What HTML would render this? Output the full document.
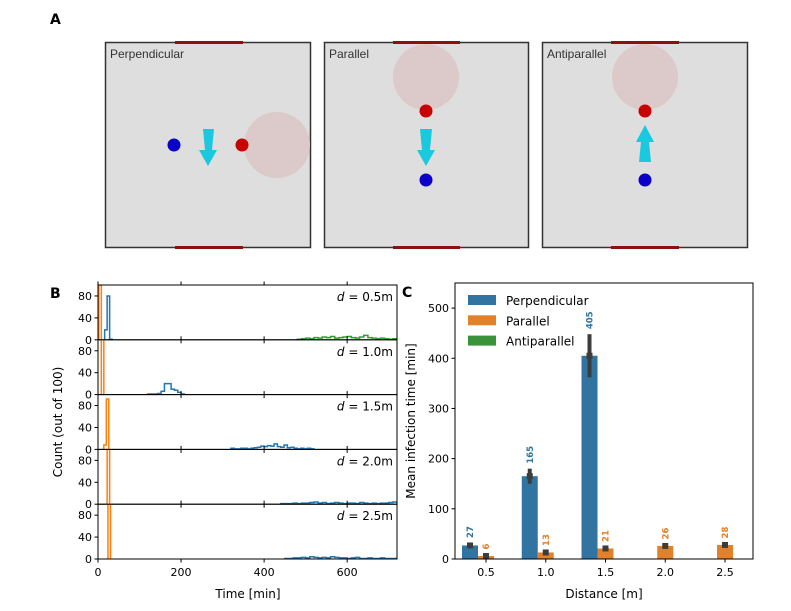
<!DOCTYPE html>
<html><head><meta charset="utf-8"><style>
body{margin:0;background:#fff;}
svg{display:block;font-family:"DejaVu Sans","Liberation Sans",sans-serif;}
</style></head><body>
<svg id="fig" width="791" height="611" viewBox="0 0 791 611">
<g>
<text x="50" y="24" font-size="14" font-weight="bold">A</text>
<g>
<rect x="105.5" y="42.5" width="205" height="205" fill="#dedede" stroke="#333" stroke-width="1.5"/>
<line x1="175" y1="42.5" x2="243" y2="42.5" stroke="#8b1010" stroke-width="3"/>
<line x1="175" y1="247.5" x2="243" y2="247.5" stroke="#8b1010" stroke-width="3"/>
<text x="110" y="58" font-size="12" fill="#333" font-family="Liberation Sans,sans-serif">Perpendicular</text>
<circle cx="277" cy="145" r="33" fill="#dccaca"/>
<circle cx="174" cy="145" r="6.5" fill="#0a00c8"/>
<circle cx="242" cy="145" r="6.5" fill="#c80000"/>
<polygon points="203,129 214,129 212,150 217,150 208,166 199,150 205,150" fill="#1ac8e0"/>
</g>
<g>
<rect x="324.5" y="42.5" width="204" height="205" fill="#dedede" stroke="#333" stroke-width="1.5"/>
<line x1="393" y1="42.5" x2="460" y2="42.5" stroke="#8b1010" stroke-width="3"/>
<line x1="393" y1="247.5" x2="460" y2="247.5" stroke="#8b1010" stroke-width="3"/>
<text x="329" y="58" font-size="12" fill="#333" font-family="Liberation Sans,sans-serif">Parallel</text>
<circle cx="426" cy="77" r="33" fill="#dccaca"/>
<circle cx="426" cy="111" r="6.5" fill="#c80000"/>
<circle cx="426" cy="180" r="6.5" fill="#0a00c8"/>
<polygon points="420,129 432,129 430,150 435,150 426,166 417,150 422,150" fill="#1ac8e0"/>
</g>
<g>
<rect x="542.5" y="42.5" width="205" height="205" fill="#dedede" stroke="#333" stroke-width="1.5"/>
<line x1="611" y1="42.5" x2="679" y2="42.5" stroke="#8b1010" stroke-width="3"/>
<line x1="611" y1="247.5" x2="679" y2="247.5" stroke="#8b1010" stroke-width="3"/>
<text x="547" y="58" font-size="12" fill="#333" font-family="Liberation Sans,sans-serif">Antiparallel</text>
<circle cx="645" cy="77" r="33" fill="#dccaca"/>
<circle cx="645" cy="111" r="6.5" fill="#c80000"/>
<circle cx="645" cy="180" r="6.5" fill="#0a00c8"/>
<polygon points="639,162 651,162 649,142 654,142 645,125 636,142 641,142" fill="#1ac8e0"/>
</g>
</g>
<g id="pb"></g>
<g id="pc"></g>
</svg>
<script>
// ---- Panel B data ----
const distLabels=["0.5","1.0","1.5","2.0","2.5"];
const timeTicks=[0,200,400,600];
const countTicks=[0,40,80];
const orangeStart=[2,8,14,22,24];
const orangeBin=6;
const orangeCounts=[[100],[100],[8,92],[100],[100]];
const blueStart=[16,120,320,440,450];
const blueBin=[6,8,8,10,10];
const blueCounts=[
[18,80,1],
[1,1,1,2,6,20,20,10,8,4,1],
[2,1,1,2,2,1,2,3,4,6,5,7,6,10,5,4,8,3,4,2,1,2,1,2,1],
[1,1,1,2,1,2,2,3,4,2,3,1,2,3,2,1,2,2,1,3,2,1,2,1,2,2,3,4],
[1,1,2,2,3,2,4,3,2,3,2,4,3,2,2,1,2,3,1,1,2,1,1,2,1,1,1]];
const greenStart=480;
const greenBin=10;
const greenCounts=[1,2,3,2,4,3,5,4,6,3,4,5,6,4,3,5,8,4,3,2,3,2,1,2];

const NS="http://www.w3.org/2000/svg";
function mk(tag,attrs,parent){const e=document.createElementNS(NS,tag);for(const k in attrs)e.setAttribute(k,attrs[k]);parent.appendChild(e);return e;}
const pb=document.getElementById('pb');
const bx0=98,bx1=397,btop=285,bh=54.8;
const xB=t=>bx0+t*(bx1-bx0)/720;
function yB(i,v){return btop+(i+1)*bh-v*bh/100;}
function stepPath(i,start,bw,counts){
  let d=`M${xB(start)},${yB(i,0)}`;
  counts.forEach((c,k)=>{const x0=xB(start+k*bw),x1=xB(start+(k+1)*bw);d+=` L${x0},${yB(i,c)} L${x1},${yB(i,c)}`;});
  d+=` L${xB(start+counts.length*bw)},${yB(i,0)}`;return d;}
let t=mk('text',{x:50,y:298,'font-size':14,'font-weight':'bold'},pb);t.textContent='B';


const clip=mk('clipPath',{id:'cb'},pb);mk('rect',{x:bx0,y:btop,width:bx1-bx0,height:5*bh},clip);
for(let i=0;i<5;i++){
  const g=mk('g',{},pb);
  
  
  const gc=mk('g',{'clip-path':'url(#cb)'},g);
  if(i===0){const p=mk('path',{d:stepPath(i,greenStart,greenBin,greenCounts),fill:'none',stroke:'#2ca02c','stroke-width':1.5},gc);
    
    }
  let p=mk('path',{d:stepPath(i,blueStart[i],blueBin[i],blueCounts[i]),fill:'none',stroke:'#1f77b4','stroke-width':1.5},gc);
  
  
  p=mk('path',{d:stepPath(i,orangeStart[i],orangeBin,orangeCounts[i]),fill:'none',stroke:'#ff7f0e','stroke-width':1.5},gc);
  
  
  mk('rect',{x:bx0,y:btop+i*bh,width:bx1-bx0,height:bh,fill:'none',stroke:'#000','stroke-width':1},g);
  countTicks.forEach(v=>{mk('line',{x1:bx0-3.5,x2:bx0,y1:yB(i,v),y2:yB(i,v),stroke:'#000'},g);
    const tt=mk('text',{x:bx0-6,y:yB(i,v)+4,'font-size':11,'text-anchor':'end'},g);tt.textContent=v;});
  timeTicks.forEach(v=>{mk('line',{x1:xB(v),x2:xB(v),y1:btop+(i+1)*bh,y2:btop+(i+1)*bh+3.5,stroke:'#000'},g);
    mk('line',{x1:xB(v),x2:xB(v),y1:btop+i*bh,y2:btop+i*bh-3.5,stroke:'#000'},g);});
  const lb=mk('text',{x:393,y:btop+i*bh+16,'font-size':12,'text-anchor':'end'},g);
  lb.innerHTML='<tspan font-style="italic">d</tspan> = '+distLabels[i]+'m';
  
  
}
timeTicks.forEach(v=>{const tt=mk('text',{x:xB(v),y:btop+5*bh+17,'font-size':11,'text-anchor':'middle'},pb);tt.textContent=v;});
t=mk('text',{x:248,y:598,'font-size':12,'text-anchor':'middle'},pb);t.textContent='Time [min]';


t=mk('text',{x:0,y:0,'font-size':12,'text-anchor':'middle',transform:'translate(62,422) rotate(-90)'},pb);t.textContent='Count (out of 100)';



// ---- Panel C data ----
const distances=["0.5","1.0","1.5","2.0","2.5"];
const perpMeans=[27,165,405,0,0];
const perpLo=[22,150,362,0,0];
const perpHi=[32,180,448,0,0];
const paraMeans=[6,13,21,26,28];
const paraLo=[3,10,18,23,25];
const paraHi=[9,16,24,29,31];
const yTicksC=[0,100,200,300,400,500];
const pc=document.getElementById('pc');
const cx0=455,cx1=753,ctop=283,cbot=559;
const yC=v=>cbot-v*(cbot-ctop)/550;
const xC=i=>486+i*59.75;
const bw=16;
t=mk('text',{x:402,y:297,'font-size':14,'font-weight':'bold'},pc);t.textContent='C';


function bars(means,lo,hi,off,color,name,txtColor){
  means.forEach((m,i)=>{if(m<=0)return;
    const r=mk('rect',{x:xC(i)+off-bw/2,y:yC(m),width:bw,height:yC(0)-yC(m),fill:color},pc);
    
    
    const cx=xC(i)+off;
    mk('line',{x1:cx,x2:cx,y1:yC(lo[i]),y2:yC(hi[i]),stroke:'#3c3c3c','stroke-width':4},pc);
    mk('rect',{x:cx-3,y:yC(m)-3,width:6,height:6,fill:'#3c3c3c'},pc);
    const ty=yC(hi[i])-5;
    const tx=mk('text',{x:0,y:0,'font-size':8.5,'font-weight':'bold',fill:txtColor,transform:`translate(${cx+3},${ty}) rotate(-90)`},pc);
    tx.textContent=m;
    
    
  });}
bars(perpMeans,perpLo,perpHi,-16,'#3274a1','perpendicular','#3274a1');
bars(paraMeans,paraLo,paraHi,0,'#e1812c','parallel','#e1812c');
mk('rect',{x:cx0,y:ctop,width:cx1-cx0,height:cbot-ctop,fill:'none',stroke:'#000'},pc);
yTicksC.forEach(v=>{mk('line',{x1:cx0-3.5,x2:cx0,y1:yC(v),y2:yC(v),stroke:'#000'},pc);
  const tt=mk('text',{x:cx0-6,y:yC(v)+4,'font-size':11,'text-anchor':'end'},pc);tt.textContent=v;});
distances.forEach((d,i)=>{mk('line',{x1:xC(i),x2:xC(i),y1:cbot,y2:cbot+3.5,stroke:'#000'},pc);
  const tt=mk('text',{x:xC(i),y:cbot+17,'font-size':11,'text-anchor':'middle'},pc);tt.textContent=d;});
t=mk('text',{x:604,y:598,'font-size':12,'text-anchor':'middle'},pc);t.textContent='Distance [m]';


t=mk('text',{x:0,y:0,'font-size':12,'text-anchor':'middle',transform:'translate(415,421) rotate(-90)'},pc);t.textContent='Mean infection time [min]';


const legNames=["Perpendicular","Parallel","Antiparallel"];
const legColors=["#3274a1","#e1812c","#3a923a"];
legNames.forEach((n,k)=>{const g=mk('g',{},pc);
  
  
  mk('rect',{x:468,y:295+k*20.3,width:28,height:10,fill:legColors[k]},g);
  const tt=mk('text',{x:506,y:305+k*20.3,'font-size':12},g);tt.textContent=n;});
</script>
</body></html>
